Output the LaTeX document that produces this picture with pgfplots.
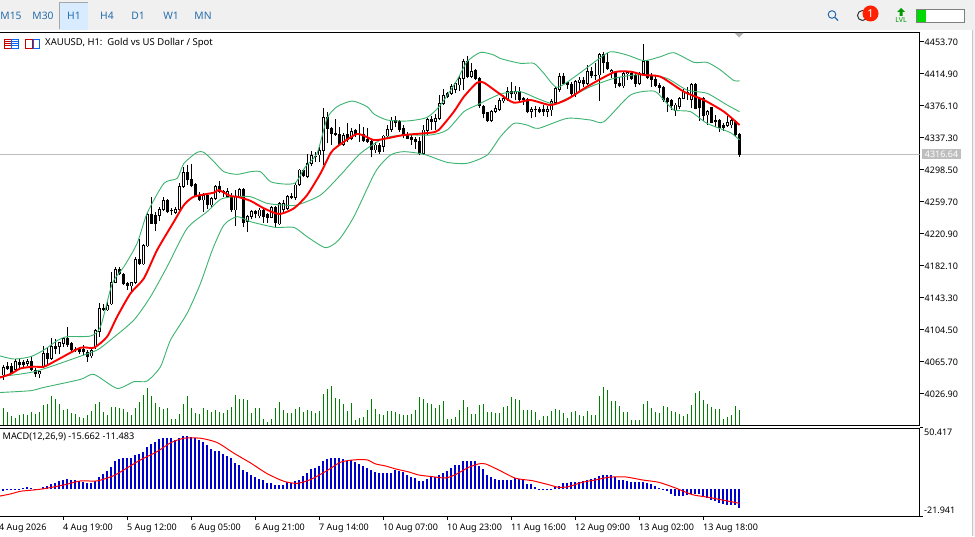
\documentclass[border=0pt]{standalone}
\usepackage{fontspec}
\setmainfont{Noto Sans}
\usepackage{pgfplots}
\usepackage{pgfplotstable}
\pgfplotsset{compat=1.18}
\definecolor{tb}{RGB}{240,240,240}
\definecolor{tabblue}{RGB}{38,108,170}
\definecolor{bandgreen}{RGB}{60,179,113}
\definecolor{volgreen}{RGB}{0,128,0}
\definecolor{macdblue}{RGB}{0,0,205}
\definecolor{lblgray}{RGB}{190,190,190}
\pgfplotstableread{
k o h l c
0 4049.3 4061.4 4043.2 4058.6
1 4060.2 4065.4 4055.3 4057.3
2 4060.2 4063.4 4050.5 4052.1
3 4056.1 4068.3 4055.3 4065.4
4 4065.0 4068.3 4057.3 4061.4
5 4064.2 4067.5 4059.4 4062.2
6 4063.4 4068.3 4060.2 4066.2
7 4066.2 4072.3 4054.5 4055.3
8 4055.3 4057.3 4046.4 4050.5
9 4050.5 4054.5 4045.2 4053.3
10 4059.4 4084.4 4057.3 4075.5
11 4075.5 4081.6 4061.4 4069.5
12 4069.5 4093.7 4067.5 4083.6
13 4083.6 4092.5 4074.7 4081.6
14 4083.6 4089.7 4074.7 4088.5
15 4087.7 4094.9 4083.6 4093.7
16 4093.7 4107.0 4083.6 4085.6
17 4087.7 4089.7 4077.6 4079.6
18 4080.4 4083.6 4077.6 4079.6
19 4080.4 4083.6 4074.7 4077.2
20 4080.4 4085.6 4073.5 4077.2
21 4077.2 4079.6 4065.4 4071.5
22 4072.3 4081.6 4069.5 4079.6
23 4083.6 4104.6 4080.4 4103.0
24 4101.8 4136.2 4095.8 4130.1
25 4130.1 4135.4 4127.3 4128.1
26 4128.1 4138.2 4127.3 4134.1
27 4135.4 4174.6 4134.1 4161.6
28 4161.6 4179.8 4160.4 4177.8
29 4177.8 4179.8 4170.5 4171.7
30 4171.7 4173.4 4158.4 4159.6
31 4160.4 4162.4 4152.3 4157.2
32 4157.2 4162.4 4150.3 4161.2
33 4161.2 4192.8 4159.6 4189.5
34 4189.5 4213.8 4182.7 4183.9
35 4183.9 4208.1 4182.7 4206.9
36 4205.7 4247.3 4204.1 4244.1
37 4244.1 4265.5 4232.4 4233.2
38 4242.5 4247.3 4224.3 4233.2
39 4242.5 4253.4 4236.4 4250.2
40 4250.2 4265.5 4248.5 4261.5
41 4261.5 4262.3 4245.3 4247.3
42 4248.5 4251.4 4243.3 4248.1
43 4246.1 4252.6 4244.5 4250.2
44 4250.2 4282.5 4248.5 4277.6
45 4277.6 4301.1 4275.6 4294.6
46 4294.6 4303.9 4279.7 4285.7
47 4286.5 4305.1 4276.8 4278.4
48 4280.9 4281.7 4264.7 4266.3
49 4266.3 4271.6 4260.7 4261.5
50 4261.5 4270.4 4247.3 4267.5
51 4267.5 4268.7 4250.2 4255.4
52 4255.4 4265.5 4251.4 4263.5
53 4263.5 4279.7 4261.5 4278.4
54 4278.4 4284.9 4269.6 4271.6
55 4271.6 4273.6 4265.5 4270.4
56 4265.5 4275.6 4263.5 4271.6
57 4266.3 4269.6 4247.3 4249.3
58 4249.3 4273.6 4229.9 4266.3
59 4266.3 4275.6 4263.5 4274.4
60 4274.4 4275.6 4228.3 4234.0
61 4235.2 4243.3 4223.1 4242.1
62 4241.3 4249.4 4238.0 4247.3
63 4247.3 4249.4 4239.3 4245.3
64 4242.1 4251.4 4239.3 4249.4
65 4249.4 4251.4 4234.0 4241.3
66 4244.5 4246.1 4234.0 4240.5
67 4240.5 4254.2 4239.3 4252.2
68 4253.0 4254.2 4228.3 4234.0
69 4232.4 4259.5 4231.2 4257.4
70 4249.4 4261.5 4247.3 4257.4
71 4251.4 4267.5 4249.4 4266.3
72 4266.3 4269.6 4262.3 4264.7
73 4264.3 4281.7 4261.5 4279.7
74 4279.7 4298.7 4278.5 4297.9
75 4297.9 4298.7 4289.0 4290.6
76 4289.8 4317.3 4287.8 4305.9
77 4305.9 4321.3 4302.7 4316.0
78 4314.8 4320.1 4308.0 4314.0
79 4316.0 4326.2 4308.0 4322.1
80 4321.3 4372.6 4303.9 4361.7
81 4361.7 4368.6 4330.2 4348.4
82 4348.4 4349.6 4328.2 4341.5
83 4342.3 4359.3 4339.1 4340.3
84 4341.5 4349.6 4327.0 4328.2
85 4328.2 4343.1 4327.0 4340.3
86 4341.5 4354.4 4332.2 4335.0
87 4336.3 4348.4 4334.2 4344.3
88 4345.6 4347.2 4338.3 4340.3
89 4341.5 4353.6 4332.2 4340.7
90 4341.5 4349.6 4332.2 4333.4
91 4335.0 4348.4 4331.0 4332.2
92 4332.2 4334.2 4313.2 4322.9
93 4322.1 4332.2 4318.1 4328.2
94 4328.2 4330.2 4317.3 4320.1
95 4326.2 4340.3 4320.1 4339.1
96 4339.1 4352.4 4337.5 4347.2
97 4347.2 4362.5 4344.3 4358.5
98 4358.5 4363.3 4349.6 4355.3
99 4356.5 4358.5 4344.3 4346.4
100 4348.4 4352.4 4336.3 4340.3
101 4340.3 4344.3 4335.0 4336.3
102 4337.1 4340.3 4328.2 4334.2
103 4335.0 4338.3 4322.9 4332.2
104 4333.0 4338.3 4316.0 4317.3
105 4317.3 4352.4 4316.0 4346.4
106 4345.6 4360.5 4340.3 4359.3
107 4359.3 4363.3 4346.4 4356.5
108 4356.5 4365.8 4346.4 4360.5
109 4360.5 4388.8 4358.5 4378.7
110 4378.7 4395.7 4376.7 4388.8
111 4390.8 4392.8 4384.8 4386.8
112 4390.8 4402.1 4388.8 4398.9
113 4395.7 4405.0 4390.8 4402.9
114 4400.9 4413.0 4394.0 4409.0
115 4409.0 4432.1 4394.9 4429.2
116 4429.2 4436.1 4409.0 4411.0
117 4411.0 4427.2 4409.0 4417.1
118 4418.3 4419.9 4407.0 4409.0
119 4409.0 4410.2 4372.6 4375.5
120 4375.5 4376.7 4360.5 4366.6
121 4367.4 4368.6 4356.5 4357.7
122 4357.3 4370.6 4355.7 4368.6
123 4368.6 4376.7 4367.4 4372.6
124 4371.4 4384.8 4369.8 4382.7
125 4381.5 4388.8 4379.5 4384.7
126 4383.5 4398.9 4381.9 4393.6
127 4393.6 4405.0 4384.7 4390.0
128 4390.0 4399.7 4382.7 4393.6
129 4393.6 4398.9 4381.5 4382.7
130 4384.7 4386.8 4376.7 4383.5
131 4383.5 4384.7 4366.6 4368.6
132 4368.6 4373.8 4360.5 4371.8
133 4371.4 4375.4 4361.7 4370.6
134 4371.4 4373.8 4366.6 4368.6
135 4371.4 4376.7 4363.3 4368.2
136 4368.6 4375.4 4362.5 4371.4
137 4370.6 4383.5 4363.3 4380.7
138 4379.5 4398.1 4377.9 4396.9
139 4395.7 4415.0 4392.8 4411.8
140 4411.8 4415.9 4400.9 4402.1
141 4403.7 4404.9 4395.7 4401.7
142 4402.1 4404.9 4386.8 4390.8
143 4390.8 4407.0 4386.8 4404.9
144 4403.7 4411.0 4392.8 4407.0
145 4407.0 4411.0 4398.9 4402.1
146 4402.9 4425.2 4400.9 4417.1
147 4417.1 4422.3 4409.0 4411.8
148 4413.0 4427.2 4407.0 4412.2
149 4413.0 4439.3 4381.9 4438.1
150 4438.1 4441.3 4415.9 4428.4
151 4428.4 4440.1 4419.1 4421.1
152 4417.1 4419.9 4409.0 4419.1
153 4416.3 4418.3 4396.9 4402.9
154 4402.9 4411.0 4398.1 4399.7
155 4399.7 4418.3 4396.9 4415.1
156 4414.2 4418.3 4407.0 4415.9
157 4415.1 4417.1 4407.0 4409.0
158 4413.0 4415.1 4398.9 4402.1
159 4402.9 4417.1 4400.9 4415.1
160 4415.1 4450.6 4413.0 4429.2
161 4429.2 4431.2 4407.8 4409.8
162 4413.0 4415.1 4398.9 4407.8
163 4408.2 4413.0 4398.1 4399.7
164 4400.9 4402.9 4390.8 4398.1
165 4398.1 4399.7 4380.7 4382.7
166 4384.7 4386.8 4368.6 4380.7
167 4381.9 4383.5 4370.6 4375.4
168 4369.8 4378.7 4363.3 4376.7
169 4374.6 4386.8 4371.4 4384.7
170 4384.7 4395.7 4383.5 4392.8
171 4390.0 4398.1 4382.7 4391.6
172 4383.5 4402.9 4372.6 4402.1
173 4402.1 4403.7 4371.4 4372.6
174 4384.7 4386.8 4357.7 4373.8
175 4384.7 4386.8 4357.7 4363.3
176 4364.5 4370.6 4352.4 4368.6
177 4373.8 4374.6 4354.4 4355.2
178 4357.7 4364.5 4350.4 4356.1
179 4358.5 4359.3 4344.3 4349.6
180 4352.4 4354.4 4345.5 4349.6
181 4351.6 4363.3 4350.4 4355.6
182 4352.4 4360.5 4348.4 4357.7
183 4356.5 4358.5 4338.3 4340.3
184 4341.5 4342.3 4314.0 4316.64
}\ohlc
\begin{document}
\begin{tikzpicture}
\useasboundingbox (0pt,0pt) rectangle (975pt,536pt);
\begin{scope}[x=1pt,y=1pt]
\fill[white] (0,0) rectangle (975,536);
% toolbar
\fill[tb] (0,506) rectangle (975,536);
\fill[tb] (972,0) rectangle (975,536);
\fill[black!22] (971.5,0) rectangle (972.5,506);
\draw[gray!70,line width=1pt] (59.5,506.5) -- (59.5,533.5) -- (88,533.5);
\fill[blue!50!cyan!15] (60,506) rectangle (88,533);
\foreach \x/\t in {11/M15,43/M30,74/H1,107/H4,138/D1,171/W1,203/MN}{
  \node[text=tabblue,font=\fontsize{10.3}{12}\selectfont] at (\x,520.5) {\t};
}
\end{scope}
\begin{axis}[name=main,at={(-2pt,110.5pt)},anchor=south west,width=921.5pt,height=393pt,scale only axis,
  xmin=-1.375,xmax=229,ymin=3988.1,ymax=4464.6,
  axis line style={black,line width=1pt},
  xtick=\empty,
  ytick={4453.70,4414.90,4376.10,4337.30,4298.50,4259.70,4220.90,4182.10,4143.30,4104.50,4065.70,4026.90},
  ytick pos=right,yticklabel pos=right,tick align=outside,
  major tick length=4pt,
  tick style={black,line width=1pt},
  yticklabel style={font=\fontsize{9}{10}\selectfont,inner sep=0pt,xshift=1pt,yshift=-0.6pt,
    /pgf/number format/.cd,fixed,fixed zerofill,precision=2,1000 sep={},assume math mode=true},
  clip=true]
\addplot[lblgray,line width=1pt] coordinates {(-1.375,4316.64)(229,4316.64)};
% wicks
\addplot[draw=none,mark=none,forget plot,error bars/.cd,y dir=plus,y explicit,error mark=none,
  error bar style={black,line width=0.9pt}]
  table[x=k,y=l,y error plus expr=\thisrow{h}-\thisrow{l}] {\ohlc};
% bodies
\addplot[draw=none,mark=none,forget plot,error bars/.cd,y dir=plus,y explicit,error mark=none,
  error bar style={black,line width=3pt}]
  table[x=k,y expr={min(\thisrow{o},\thisrow{c})-0.5},y error plus expr={abs(\thisrow{o}-\thisrow{c})+1}] {\ohlc};
% hollow up bodies
\addplot[draw=none,mark=none,forget plot,x filter/.expression={\thisrow{c}-\thisrow{o}>1.5 ? x : nan},
  error bars/.cd,y dir=plus,y explicit,error mark=none,
  error bar style={white,line width=1pt}]
  table[x=k,y expr={\thisrow{o}+0.6},y error plus expr={\thisrow{c}-\thisrow{o}-1.2}] {\ohlc};
% Bollinger upper
\addplot[bandgreen,line width=0.9pt,smooth,tension=0.4] coordinates {
(-1.3,4073)(2.6,4068.7)(6.75,4071.5)(10.1,4079.6)(13.4,4090.9)(15.9,4095.8)(21.75,4096.6)(24.25,4107.9)(27.2,4160.4)(30.1,4180.6)(33.4,4208.9)(35.9,4245.3)(40.1,4281.7)(43.4,4287.7)(45.1,4305.9)(48.4,4319.3)(50.1,4319.3)(52.6,4308)(55.1,4295.8)(58.4,4292.6)(61.75,4295.8)(64.25,4295.8)(66.75,4283.7)(70.1,4280.9)(73,4282.5)(75.5,4301.9)(78.4,4318.1)(80.9,4360.5)(83.4,4374.7)(87.2,4381.5)(90.9,4374.7)(92.6,4365.8)(95.9,4358.5)(100.9,4357.3)(105.9,4361.7)(109.25,4376.7)(113.4,4407)(115.9,4429.2)(119.25,4440.5)(122.6,4437.3)(124.25,4433)(129.25,4427.2)(132.6,4427.2)(135.1,4415)(138.4,4398.1)(143.4,4413)(148.4,4431.2)(151.75,4441.3)(155.9,4437.3)(160.1,4430.4)(164.25,4435.3)(167.6,4440.1)(172.6,4428.4)(175.9,4428.4)(179.25,4419.1)(182.6,4406.2)(184,4406.2)};
% Bollinger middle
\addplot[bandgreen,line width=0.9pt,smooth,tension=0.4] coordinates {
(-1.3,4047)(4.25,4050.5)(7.6,4053.3)(11.75,4059.4)(18.4,4070.7)(23.4,4079.6)(26.75,4091.7)(32.6,4116)(36.75,4144.3)(40.9,4180.6)(45.9,4227.1)(50.9,4247.3)(54.25,4262.3)(57.6,4265.5)(61.75,4265.5)(65.9,4257.4)(70.1,4255.4)(73.4,4255.4)(79.25,4267.5)(84.25,4291.8)(89.25,4318.1)(95.1,4336.3)(100.1,4340.3)(106.75,4340.3)(110.9,4346.4)(115.1,4368.6)(118.4,4376.7)(124.25,4390)(129.25,4392.8)(133.4,4384.7)(137.6,4377.9)(140.9,4384.7)(146.75,4398.9)(152.6,4409)(157.6,4413)(160.9,4413)(165.9,4409)(170.9,4394.8)(175.9,4390.8)(180.9,4376.7)(184,4368.6)};
% Bollinger lower
\addplot[bandgreen,line width=0.9pt,smooth,tension=0.4] coordinates {
(-1.3,4028)(6.75,4030.3)(10.1,4034.3)(19.25,4044)(22.6,4050.1)(28.4,4033.1)(32.6,4041.2)(35.9,4042)(39.25,4059.4)(41.75,4091.7)(45.9,4124)(49.25,4160.4)(52.2,4200.8)(55.1,4231.2)(58.4,4241.3)(61.75,4235.2)(68,4228.3)(72.6,4228.3)(75.9,4217)(80.5,4203.7)(83.8,4213)(87.6,4241.3)(93,4295.8)(96.75,4316)(100.1,4320.1)(105.1,4316.9)(110.9,4307.2)(115.9,4306)(120.9,4316)(124.25,4338.3)(127.6,4354.4)(130.9,4352.4)(133.75,4348.4)(140.9,4360.5)(146.75,4358.5)(150.1,4356.4)(156.75,4388.8)(162.6,4393.6)(165.1,4382.7)(167.6,4370.6)(171.75,4368.6)(175.9,4354.4)(181.75,4343.1)(184,4334.2)};
% red MA
\addplot[red,line width=1.9pt,smooth,tension=0.4] coordinates {
(-1.3,4045.6)(1.75,4050.5)(4.25,4057.3)(7.6,4059.4)(10.1,4059.4)(13.4,4067.5)(19.25,4082.4)(22.6,4082.4)(25.9,4095.8)(28.4,4120)(31.75,4148.3)(35.1,4166.5)(38.4,4200.8)(42.6,4235.2)(45.1,4255.4)(47.6,4265.5)(52.6,4270.4)(53.8,4273.6)(56.75,4266.3)(58.4,4265.5)(61.75,4260.5)(65.1,4251.4)(68.9,4244.5)(72.6,4251.4)(75.9,4267.5)(79.25,4293.8)(81.75,4318.1)(83.4,4326.2)(88.4,4341.5)(92.6,4334.2)(95.9,4336.3)(100.1,4340.3)(106.75,4343.1)(108.8,4346.4)(112.6,4368.6)(115.1,4386.8)(118.4,4403.8)(120.1,4403.8)(124.25,4389.5)(127.6,4379.5)(131.75,4382.7)(136.75,4376.7)(140.9,4383.5)(145.9,4398.9)(152.6,4416.3)(156.75,4417.1)(160.1,4413)(164.25,4411)(170.1,4392.8)(175.1,4382.7)(180.1,4368.6)(184,4352.4)};
\end{axis}
% volumes
\begin{axis}[at={(-2pt,110.5pt)},anchor=south west,width=921.5pt,height=393pt,scale only axis,
  xmin=-1.375,xmax=229,ymin=0,ymax=393,hide axis]
\addplot[ycomb,volgreen,line width=0.9pt] coordinates {
(0,17.7)(1,13)(2,9)(3,7)(4,10)(5,11)(6,10)(7,13)(8,11)(9,13)(10,20)(11,21)(12,29)(13,26)(14,21)(15,15)(16,16)(17,12)(18,11)(19,8)(20,7)(21,10)(22,14)(23,21)(24,23)(25,13)(26,10)(27,18)(28,18)(29,17)(30,16)(31,13)(32,10)(33,17)(34,23)(35,30)(36,37)(37,29)(38,22)(39,18)(40,16)(41,17)(42,6)(43,6)(44,11)(45,21)(46,29)(47,17)(48,12)(49,11)(50,17)(51,15)(52,13)(53,15)(54,13)(55,12)(56,15)(57,18)(58,30)(59,26)(60,26)(61,25)(62,12)(63,17)(64,17)(65,6)(66,3)(67,6)(68,17)(69,23)(70,15)(71,12)(72,12)(73,16)(74,18)(75,13)(76,15)(77,14)(78,12)(79,14)(80,31)(81,36)(82,39)(83,27)(84,26)(85,21)(86,14)(87,22)(88,5)(89,7)(90,8)(91,15)(92,26)(93,16)(94,11)(95,10)(96,14)(97,14)(98,13)(99,11)(100,10)(101,10)(102,11)(103,15)(104,28)(105,26)(106,22)(107,21)(108,17)(109,20)(110,24)(111,6)(112,6)(113,8)(114,15)(115,25)(116,18)(117,11)(118,11)(119,20)(120,21)(121,13)(122,13)(123,12)(124,12)(125,18)(126,19)(127,28)(128,26)(129,25)(130,15)(131,15)(132,15)(133,13)(134,5)(135,9)(136,9)(137,14)(138,16)(139,15)(140,12)(141,7)(142,13)(143,14)(144,10)(145,9)(146,14)(147,10)(148,10)(149,29)(150,38)(151,35)(152,24)(153,24)(154,19)(155,13)(156,13)(157,5)(158,5)(159,5)(160,21)(161,24)(162,17)(163,13)(164,12)(165,19)(166,18)(167,14)(168,13)(169,11)(170,9)(171,11)(172,20)(173,32)(174,34)(175,25)(176,21)(177,18)(178,16)(179,16)(180,6)(181,8)(182,10)(183,19)(184,15)};
\end{axis}
% MACD
\begin{axis}[name=macd,at={(-2pt,20pt)},anchor=south west,width=921.5pt,height=88pt,scale only axis,
  xmin=-1.375,xmax=229,ymin=-21.941,ymax=50.417,
  axis line style={black,line width=1pt},
  xtick={-1,15,31,47,63,79,95,111,127,143,159,175},
  xticklabels={4 Aug 2026,4 Aug 19:00,5 Aug 12:00,6 Aug 05:00,6 Aug 21:00,7 Aug 14:00,10 Aug 07:00,10 Aug 23:00,11 Aug 16:00,12 Aug 09:00,13 Aug 02:00,13 Aug 18:00},
  xtick pos=bottom,tick align=outside,major tick length=4pt,
  tick style={black,line width=1pt},
  xticklabel style={font=\fontsize{9}{10}\selectfont,anchor=north west,inner sep=0pt,xshift=-0.5pt,yshift=-4pt},
  ytick=\empty,clip=true]
\addplot[ycomb,macdblue,line width=2.05pt,xshift=-0.5pt] coordinates {
(0,-1.2)(1,-.3)(2,-.3)(3,-.3)(4,.3)(5,1.2)(6,2.2)(7,1.4)(8,.1)(9,.1)(10,2.2)(11,3)(12,4.4)(13,5.2)(14,7.1)(15,7.7)(16,8.5)(17,7.7)(18,7.7)(19,6.9)(20,6.3)(21,5.5)(22,5.5)(23,6.6)(24,10.2)(25,12.4)(26,15.1)(27,18.7)(28,23)(29,24.7)(30,25.8)(31,26.1)(32,26.1)(33,28.6)(34,29.4)(35,31)(36,34.6)(37,37.6)(38,39)(39,41.2)(40,42.6)(41,42.6)(42,41.8)(43,40.7)(44,42.3)(45,43.7)(46,44.2)(47,43.4)(48,42)(49,40.9)(50,38.5)(51,36.5)(52,33.5)(53,31.9)(54,31.3)(55,29.1)(56,27.5)(57,25.5)(58,21.7)(59,20.3)(60,16.2)(61,14)(62,12.1)(63,10.2)(64,8.8)(65,7.7)(66,5.5)(67,5.5)(68,3.8)(69,3.8)(70,3.8)(71,6)(72,5.2)(73,7.1)(74,7.4)(75,11)(76,13.7)(77,16.5)(78,17.9)(79,19.5)(80,23.6)(81,25.3)(82,26.1)(83,25.8)(84,25.5)(85,25)(86,23.6)(87,23.9)(88,22.3)(89,20.6)(90,19.2)(91,17.6)(92,15.7)(93,14.6)(94,13.7)(95,13.7)(96,13.7)(97,13.7)(98,15.9)(99,15.4)(100,14.6)(101,12.1)(102,10.2)(103,9.6)(104,7.1)(105,7.1)(106,8.8)(107,10.2)(108,10.2)(109,12.1)(110,13.7)(111,15.4)(112,17.6)(113,19.8)(114,20.3)(115,23.6)(116,23.6)(117,23.6)(118,23.6)(119,19.5)(120,16.8)(121,11.8)(122,10.2)(123,8.2)(124,8)(125,8)(126,8)(127,8)(128,9)(129,8.5)(130,8)(131,4.7)(132,4.4)(133,2.2)(134,.3)(135,.3)(136,.3)(137,.3)(138,1.6)(139,3)(140,4.9)(141,5.5)(142,6.3)(143,6.3)(144,6.3)(145,7.1)(146,8)(147,8.5)(148,9)(149,10.7)(150,12.1)(151,12.1)(152,12.1)(153,9.9)(154,8)(155,8)(156,7.1)(157,6)(158,5.8)(159,5.8)(160,5.8)(161,5.2)(162,4.4)(163,3)(164,1.1)(165,-.8)(166,-1.6)(167,-3.8)(168,-5.2)(169,-5.8)(170,-5.2)(171,-4.7)(172,-3.8)(173,-3.8)(174,-3.8)(175,-6.6)(176,-7.1)(177,-8.5)(178,-9.9)(179,-11.5)(180,-12.4)(181,-12.6)(182,-12.6)(183,-13.2)(184,-15.662)};
\addplot[red,line width=1pt,smooth,tension=0.4] coordinates {
(-1.3,-5.8)(1.75,-3.8)(4.25,-1.6)(6.75,-.8)(10.1,.5)(15.1,3.6)(19.25,6.9)(23.4,6.9)(27.6,11.3)(30.9,17.6)(34.25,24.2)(38.4,31)(41.75,38.2)(45.1,42)(49.25,42)(53.4,38.5)(57.6,29.7)(61.75,21.7)(65.9,12.9)(70.1,6.6)(73.4,4.9)(76.75,8)(80.9,15.4)(84.25,22.3)(87.6,24.2)(90.9,24.2)(93,20.9)(95.5,19.2)(98,16.8)(101.3,14.3)(103.8,11.8)(107.2,10.4)(110.5,9.3)(113,12.1)(116.3,18.1)(118.8,20.9)(120.5,20.9)(123.8,15.9)(128,9.1)(132.2,7.1)(136.3,3.8)(138.8,1.6)(141.3,2.2)(144.7,5.8)(148,7.7)(151.3,9.9)(155.5,10.2)(159.7,7.7)(163.8,5.8)(168,1.1)(172.2,-4.4)(176.3,-6.6)(180.5,-9.3)(184,-11.483)};
\end{axis}
\begin{scope}[x=1pt,y=1pt]
% labels
\fill[lblgray] (922,377) rectangle (961,387);
\node[text=white,font=\fontsize{9}{10}\selectfont,anchor=center] at (941.5,382) {4316.64};
\node[font=\fontsize{9}{10}\selectfont,anchor=west,inner sep=0pt] at (924,104) {50.417};
\node[font=\fontsize{9}{10}\selectfont,anchor=west,inner sep=0pt] at (924,26) {-21.941};
\draw[black,line width=1pt] (919.5,108) -- (923,108);
\draw[black,line width=1pt] (919.5,20) -- (923,20);
\node[font=\fontsize{9.5}{10}\selectfont,anchor=west,inner sep=0pt] at (45,493) {XAUUSD, H1:\ \ Gold vs US Dollar / Spot};
\node[font=\fontsize{9.2}{10}\selectfont,anchor=west,inner sep=0pt] at (2.5,99) {MACD(12,26,9) -15.662 -11.483};
% small icons
\draw[red!80!black,line width=0.8pt] (4.5,488) rectangle (11,497);
\draw[blue!60!cyan,line width=0.8pt] (11,488) rectangle (18.5,497);
\foreach \y in {490.5,492.5,494.5}{\draw[red!80!black,line width=.7pt] (5,\y)--(10.5,\y);\draw[blue!60!cyan,line width=.7pt] (11.5,\y)--(18,\y);}
\draw[red!80!black,line width=0.8pt] (25.5,488) rectangle (32,497);
\draw[blue!60!cyan,line width=0.8pt] (33,488) rectangle (39.5,497);
\fill[gray!60] (734.5,503) -- (743.5,503) -- (739,498.5) -- cycle;
% right toolbar icons
\draw[tabblue,line width=1pt] (832,521.5) circle (3.8);
\draw[tabblue,line width=1.2pt] (834.8,518.7) -- (838,515.5);
\draw[black!80,line width=1pt] (862.5,520.5) circle (5);
\fill[red!75!orange] (870.5,522.5) circle (8);
\node[text=white,font=\fontsize{11}{12}\selectfont] at (870.5,522.5) {1};
\node[text=green!60!black,font=\fontsize{7}{8}\selectfont] at (901,515.5) {LVL};
\fill[green!60!black] (899.5,520)--(902.5,520)--(902.5,524)--(905,524)--(901,528)--(897,524)--(899.5,524)--cycle;
\draw[gray,line width=1pt,fill=white] (916.5,513.5) rectangle (964.5,526.5);
\fill[green!85!black] (917,514) rectangle (926,526);
\end{scope}
\end{tikzpicture}
\end{document}
